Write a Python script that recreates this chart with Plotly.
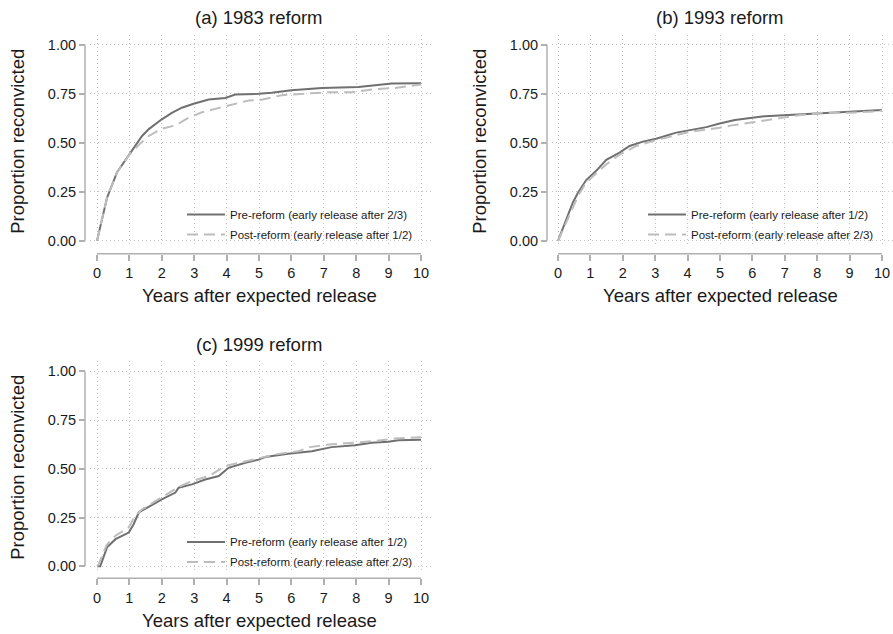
import plotly.graph_objects as go

# ---- Data: cumulative proportion reconvicted by years after expected release ----
# (a) 1983 reform
a_pre_t = [0, 0.31, 0.62, 1.0, 1.39, 1.6, 2.0, 2.31, 2.62, 2.98, 3.45, 3.96, 4.27, 4.99,
           5.39, 6.0, 6.94, 8.07, 9.1, 10.0]
a_pre_p = [0, 0.22, 0.35, 0.44, 0.535, 0.57, 0.62, 0.653, 0.679, 0.699, 0.721, 0.729, 0.746, 0.75,
           0.755, 0.768, 0.78, 0.785, 0.802, 0.804]
a_post_t = [0, 0.31, 0.62, 1.0, 1.29, 1.6, 2.0, 2.42, 2.83, 3.24, 3.65, 4.17, 4.68, 5.08,
            5.7, 6.42, 7.14, 7.86, 8.48, 9.2, 10.0]
a_post_p = [0, 0.22, 0.35, 0.44, 0.49, 0.535, 0.572, 0.589, 0.628, 0.656, 0.673, 0.695, 0.716, 0.72,
            0.743, 0.751, 0.758, 0.758, 0.772, 0.78, 0.797]

# (b) 1993 reform
b_pre_t = [0, 0.26, 0.46, 0.62, 0.87, 1.18, 1.49, 1.9, 2.21, 2.62, 3.03, 3.65, 4.06, 4.58, 4.99,
           5.46, 6.39, 7.42, 8.14, 9.17, 10.0]
b_pre_p = [0, 0.11, 0.196, 0.247, 0.31, 0.357, 0.413, 0.45, 0.484, 0.506, 0.521, 0.552, 0.563, 0.58, 0.599,
           0.616, 0.636, 0.645, 0.653, 0.661, 0.667]
b_post_t = [0, 0.3, 0.62, 0.87, 1.18, 1.49, 1.9, 2.42, 3.03, 3.55, 4.06, 4.99,
            5.36, 6.08, 6.7, 7.42, 8.14, 8.96, 9.58, 10.0]
b_post_p = [0, 0.11, 0.23, 0.298, 0.345, 0.39, 0.44, 0.484, 0.514, 0.535, 0.556, 0.577,
            0.589, 0.606, 0.623, 0.641, 0.653, 0.653, 0.658, 0.664]

# (c) 1999 reform
c_pre_t = [0, 0.1, 0.31, 0.57, 0.98, 1.13, 1.29, 1.65, 2.0, 2.42, 2.52, 2.93, 3.34, 3.76, 4.06, 4.58,
           4.99, 5.19, 5.9, 6.63, 7.24, 7.96, 8.48, 8.99, 9.3, 10.0]
c_pre_p = [0, 0.0, 0.097, 0.139, 0.173, 0.216, 0.276, 0.31, 0.343, 0.378, 0.403, 0.42, 0.445, 0.463, 0.505, 0.531,
           0.547, 0.56, 0.577, 0.59, 0.611, 0.621, 0.633, 0.638, 0.646, 0.649]
c_post_t = [0, 0.05, 0.3, 0.57, 0.98, 1.18, 1.39, 2.0, 2.52, 2.93, 3.45, 3.96, 4.58, 4.99,
            5.49, 6.21, 6.57, 7.14, 7.86, 8.48, 9.2, 10.0]
c_post_p = [0, 0.01, 0.11, 0.157, 0.2, 0.259, 0.292, 0.352, 0.407, 0.437, 0.463, 0.514, 0.539, 0.556,
            0.573, 0.59, 0.611, 0.624, 0.633, 0.641, 0.655, 0.662]

titles = ["(a) 1983 reform", "(b) 1993 reform", "(c) 1999 reform"]
legend_names = [
    ("Pre-reform (early release after 2/3)", "Post-reform (early release after 1/2)"),
    ("Pre-reform (early release after 1/2)", "Post-reform (early release after 2/3)"),
    ("Pre-reform (early release after 1/2)", "Post-reform (early release after 2/3)"),
]
x_ticks = list(range(0, 11))
y_ticks = [0, 0.25, 0.5, 0.75, 1.0]
y_tick_text = ["0.00", "0.25", "0.50", "0.75", "1.00"]
x_title = "Years after expected release"
y_title = "Proportion reconvicted"

series = [
    (a_pre_t, a_pre_p, a_post_t, a_post_p),
    (b_pre_t, b_pre_p, b_post_t, b_post_p),
    (c_pre_t, c_pre_p, c_post_t, c_post_p),
]

# ---- Layout helpers (pixel geometry of the 893 x 634 canvas) ----
W, H = 893, 634
FONT = "Liberation Sans, Arial, Helvetica, sans-serif"
PRE_COLOR = "#707070"
POST_COLOR = "#bdbdbd"
AXIS_COLOR = "#b0b0b0"
GRID_COLOR = "#c4c4c4"

# per panel: x pixel of value 0, y pixel of value 1, y pixel of value 0,
# y-axis line x pixel, x-axis line y pixel, legend top-left pixel
panels = [
    dict(x0=97, y1=45, y0=242, yline=85, xline=255, leg=(182, 201)),
    dict(x0=558, y1=45, y0=242, yline=547, xline=255, leg=(643, 201)),
    dict(x0=97, y1=373, y0=569, yline=85, xline=581, leg=(182, 530)),
]
XSCALE = 32.4  # pixels per year

def px_x(p):
    return p / W

def px_y(p):
    return (H - p) / H

fig = go.Figure()
layout = dict(
    width=W, height=H,
    margin=dict(l=0, r=0, t=0, b=0),
    paper_bgcolor="white", plot_bgcolor="white",
    font=dict(family=FONT, color="#1a1a1a"),
    showlegend=True,
)
shapes = []
annotations = []

for i, (pn, (pt, pp, qt, qp)) in enumerate(zip(panels, series)):
    k = "" if i == 0 else str(i + 1)
    xa, ya = "x" + k, "y" + k
    leg = "legend" + k
    yscale = pn["y0"] - pn["y1"]
    left_px, right_px = pn["yline"] + 5, min(pn["x0"] + 10 * XSCALE + 11, W)
    top_px, bot_px = pn["y1"] - 10, pn["y0"] + 5

    fig.add_trace(go.Scatter(
        x=pt, y=pp, mode="lines", name=legend_names[i][0],
        line=dict(color=PRE_COLOR, width=2), xaxis=xa, yaxis=ya, legend=leg,
        legendgroup=f"pre{i}",
    ))
    fig.add_trace(go.Scatter(
        x=qt, y=qp, mode="lines", name=legend_names[i][1],
        line=dict(color=POST_COLOR, width=2, dash="11px,6px"), xaxis=xa, yaxis=ya, legend=leg,
        legendgroup=f"post{i}",
    ))

    grid = dict(showgrid=True, gridcolor=GRID_COLOR, gridwidth=1, griddash="1px,3px",
                zeroline=False, showline=False, ticks="outside", ticklen=6,
                tickcolor=AXIS_COLOR, tickwidth=1.5,
                tickfont=dict(size=14.5, color="#1a1a1a", family=FONT))
    layout["xaxis" + k] = dict(
        grid,
        domain=[px_x(left_px), px_x(right_px)],
        range=[-(pn["x0"] - left_px) / XSCALE, (right_px - pn["x0"]) / XSCALE],
        anchor="free", position=px_y(pn["xline"]),
        tickvals=x_ticks, ticktext=[str(v) for v in x_ticks],
    )
    layout["yaxis" + k] = dict(
        grid,
        domain=[px_y(bot_px), px_y(top_px)],
        range=[-(bot_px - pn["y0"]) / yscale, 1 + (pn["y1"] - top_px) / yscale],
        anchor="free", position=px_x(pn["yline"]),
        tickvals=y_ticks, ticktext=y_tick_text,
    )

    # axis lines spanning the tick range only
    shapes.append(dict(type="line", xref="paper", yref=ya,
                       x0=px_x(pn["yline"]), x1=px_x(pn["yline"]), y0=0, y1=1,
                       line=dict(color=AXIS_COLOR, width=1.5)))
    shapes.append(dict(type="line", xref=xa, yref="paper",
                       x0=0, x1=10, y0=px_y(pn["xline"]), y1=px_y(pn["xline"]),
                       line=dict(color=AXIS_COLOR, width=1.5)))

    cx = pn["x0"] + 5 * XSCALE
    annotations.append(dict(text=titles[i], xref="paper", yref="paper",
                            x=px_x(cx), y=px_y(pn["y1"] - 27), xanchor="center", yanchor="middle",
                            showarrow=False, font=dict(size=18.5, family=FONT, color="#1a1a1a")))
    annotations.append(dict(text=x_title, xref="paper", yref="paper",
                            x=px_x(cx), y=px_y(pn["xline"] + 42), xanchor="center", yanchor="middle",
                            showarrow=False, font=dict(size=18.5, family=FONT, color="#1a1a1a")))
    annotations.append(dict(text=y_title, xref="paper", yref="paper", textangle=-90,
                            x=px_x(pn["yline"] - 67), y=px_y((pn["y0"] + pn["y1"]) / 2 - 1),
                            xanchor="center", yanchor="middle",
                            showarrow=False, font=dict(size=18.5, family=FONT, color="#1a1a1a")))

    layout[leg] = dict(
        x=px_x(pn["leg"][0]), y=px_y(pn["leg"][1]), xanchor="left", yanchor="top",
        bgcolor="rgba(0,0,0,0)", borderwidth=0,
        font=dict(size=11.5, family=FONT, color="#1a1a1a"),
        tracegroupgap=1, itemwidth=38,
    )

layout["shapes"] = shapes
layout["annotations"] = annotations
fig.update_layout(**layout)

fig.write_html("out.html")
